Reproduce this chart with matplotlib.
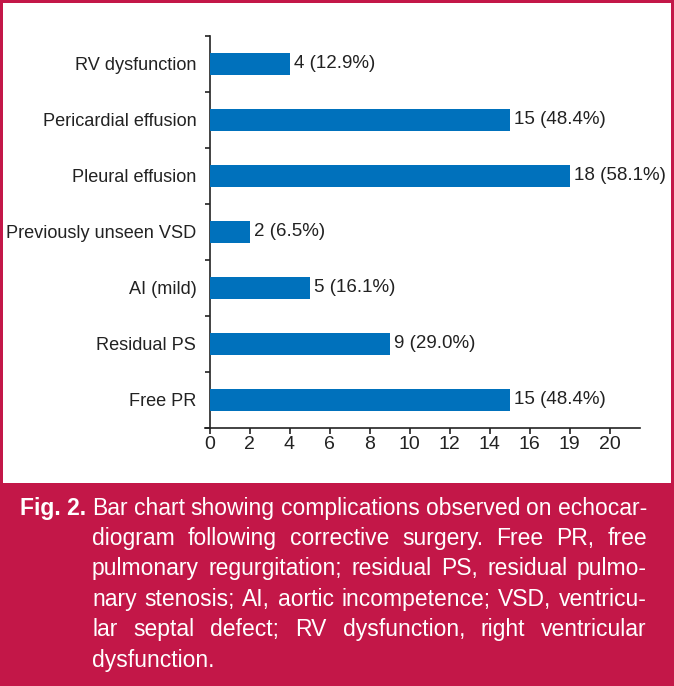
import matplotlib
matplotlib.use("Agg")
import matplotlib.pyplot as plt
from matplotlib.patches import Rectangle

# data, bottom to top
categories = ["Free PR", "Residual PS", "AI (mild)", "Previously unseen VSD",
              "Pleural effusion", "Pericardial effusion", "RV dysfunction"]
counts = [15, 9, 5, 2, 18, 15, 4]
percents = [48.4, 29.0, 16.1, 6.5, 58.1, 48.4, 12.9]
xtick_pos = [0, 2, 4, 6, 8, 10, 12, 14, 16, 18, 20]
xtick_labels = ["0", "2", "4", "6", "8", "10", "12", "14", "16", "19", "20"]

caption_label = "Fig. 2."
caption_lines = [
    "Bar chart showing complications observed on echocar-",
    "diogram following corrective surgery. Free PR, free",
    "pulmonary regurgitation; residual PS, residual pulmo-",
    "nary stenosis; AI, aortic incompetence; VSD, ventricu-",
    "lar septal defect; RV dysfunction, right ventricular",
    "dysfunction.",
]

crimson = "#c31748"
blue = "#0071bc"

plt.rcParams["font.family"] = ["Liberation Sans", "DejaVu Sans"]

W, H = 674, 686
fig = plt.figure(figsize=(W / 100, H / 100), dpi=100)
fig.patch.set_facecolor(crimson)

# white chart panel
fig.patches.append(Rectangle((3 / W, 1 - 483 / H), 668 / W, 480 / H,
                             transform=fig.transFigure, facecolor="white",
                             edgecolor="none", zorder=-5))

ax = fig.add_axes([204.5 / W, 1 - 428 / H, 435 / W, 392 / H])
ax.set_zorder(2)
ax.set_facecolor("none")
y = list(range(len(categories)))
ax.barh(y, counts, height=0.38, color=blue, zorder=3)

for yi, c, p in zip(y, counts, percents):
    ax.annotate(f"{c} ({p:.1f}%)", (c, yi), xytext=(3, 0), textcoords="offset points",
                ha="left", va="center", fontsize=13.5, color="#222222")

ax.set_xlim(-0.25, 21.5)
ax.set_ylim(-0.5, len(categories) - 0.5)
ax.spines["top"].set_visible(False)
ax.spines["right"].set_visible(False)
ax.spines["left"].set_position(("data", 0))
for s in ["left", "bottom"]:
    ax.spines[s].set_linewidth(1.2)
    ax.spines[s].set_color("#222222")

ax.set_yticks(y)
ax.set_yticklabels(categories, fontsize=13.1)
ax.set_yticks([i - 0.5 for i in range(len(categories) + 1)], minor=True)
ax.tick_params(axis="y", which="major", length=0, pad=9.5, colors="#222222")
ax.tick_params(axis="y", which="minor", length=3.6, width=1.2, color="#222222")

ax.set_xticks(xtick_pos)
ax.set_xticklabels(xtick_labels, fontsize=14)
ax.tick_params(axis="x", length=4.3, width=1.2, pad=1.5, colors="#222222")

# caption, justified by placing words one by one
renderer = fig.canvas.get_renderer()
fs = 16.5
left, right = 92, 647
baselines = [515, 545, 575, 606, 636, 667]

fig.text(20 / W, 1 - baselines[0] / H, caption_label, color="white", fontsize=fs,
         fontweight="bold", va="baseline", ha="left")

for i, line in enumerate(caption_lines):
    words = line.split(" ")
    yy = 1 - baselines[i] / H
    texts = [fig.text(0, yy, w, color="white", fontsize=fs, va="baseline", ha="left")
             for w in words]
    widths = [t.get_window_extent(renderer).width for t in texts]
    if i < len(caption_lines) - 1 and len(words) > 1:
        gap = (right - left - sum(widths)) / (len(words) - 1)
    else:
        gap = fs * 100 / 72 * 0.278
    x = left
    for t, w in zip(texts, widths):
        t.set_x(x / W)
        x += w + gap

fig.savefig("out.png", dpi=100, facecolor=fig.get_facecolor())
